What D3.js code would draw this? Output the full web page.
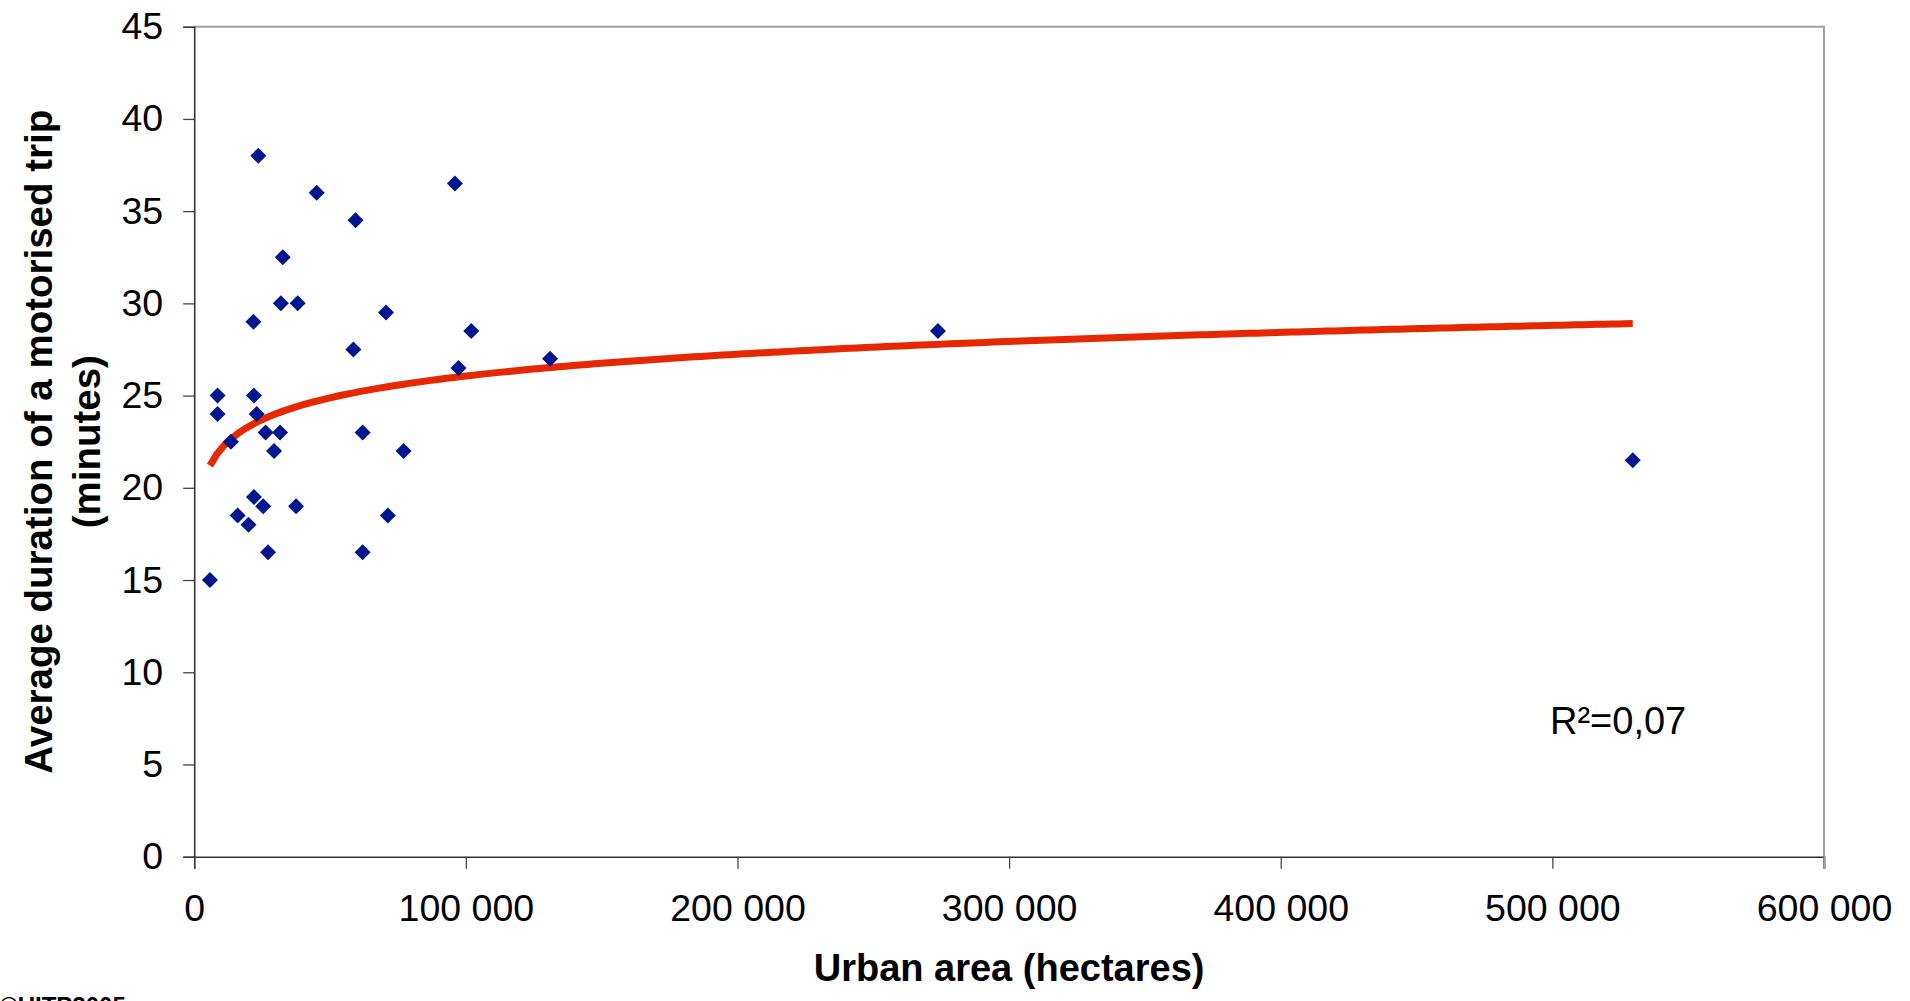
<!DOCTYPE html>
<html>
<head>
<meta charset="utf-8">
<script src="https://cdn.jsdelivr.net/npm/d3@7"></script>
<style>
  body { margin: 0; background: #fff; }
  svg { display: block; font-family: Arial, "Liberation Sans", sans-serif; }
</style>
</head>
<body>
<svg id="chart" width="1910" height="1001"></svg>
<script>
// urban area (hectares) and average trip duration (minutes)
const areas = [23600, 45100, 96000, 59400, 32600, 31900, 38100, 21800, 70600, 102000,
  58600, 97300, 131000, 8600, 8600, 22000, 23000, 13500, 26300, 31600,
  29400, 62000, 77100, 22000, 25400, 37500, 16000, 20000, 71300, 27200,
  62000, 5800, 529600, 273800];
const durations = [38, 36, 36.5, 34.5, 32.5, 30, 30, 29, 29.5, 28.5,
  27.5, 26.5, 27, 25, 24, 25, 24, 22.5, 23, 23,
  22, 23, 22, 19.5, 19, 19, 18.5, 18, 18.5, 16.5,
  16.5, 15, 21.5, 28.5];

// logarithmic trend line y = a ln(x) + b, as shown in the chart
const trendA = 1.706;
const trendB = 6.42;
const r2Label = "R²=0,07";

const xTicks = [0, 100000, 200000, 300000, 400000, 500000, 600000];
const yTicks = [0, 5, 10, 15, 20, 25, 30, 35, 40, 45];

const svg = d3.select("#chart");
const margin = { top: 26.7, right: 86, bottom: 144.3, left: 194.2 };
const width = 1910 - margin.left - margin.right;
const height = 1001 - margin.top - margin.bottom;

const g = svg.append("g").attr("transform", `translate(${margin.left},${margin.top})`);

const x = d3.scaleLinear().domain([0, 600000]).range([0, width]);
const y = d3.scaleLinear().domain([0, 45]).range([height, 0]);

const locale = d3.formatLocale({ decimal: ",", thousands: " ", grouping: [3], currency: ["", ""] });
const fmt = locale.format(",");

// plot border (top and right in grey)
g.append("path")
  .attr("d", `M0,0H${width}V${height + 12}`)
  .attr("fill", "none")
  .attr("stroke", "#a0a0a0")
  .attr("stroke-width", 2);

const xAxis = g.append("g")
  .attr("transform", `translate(0,${height})`)
  .call(d3.axisBottom(x).tickValues(xTicks).tickFormat(fmt).tickSize(12).tickPadding(26));

const yAxis = g.append("g")
  .call(d3.axisLeft(y).tickValues(yTicks).tickSize(11).tickPadding(20));

[xAxis, yAxis].forEach(a => {
  a.select(".domain").attr("stroke", "#333").attr("stroke-width", 1.6);
  a.selectAll(".tick line").attr("stroke", "#444").attr("stroke-width", 1.3);
  a.selectAll(".tick text").attr("font-size", 37.5).attr("fill", "#000")
    .attr("font-family", "Arial, 'Liberation Sans', sans-serif");
});
xAxis.select(".tick:last-of-type line").attr("stroke", "#a0a0a0").attr("stroke-width", 2);

// trend line
const xMin = d3.min(areas), xMax = d3.max(areas);
const trendXs = d3.range(0, 201).map(i => xMin + (xMax - xMin) * i / 200);
const line = d3.line()
  .x(d => x(d))
  .y(d => y(trendA * Math.log(d) + trendB));

g.append("path")
  .datum(trendXs)
  .attr("d", line)
  .attr("fill", "none")
  .attr("stroke", "#e62800")
  .attr("stroke-width", 7);

// points
const diamond = d3.symbol().type(d3.symbolSquare).size(128);
g.selectAll(".pt")
  .data(areas.map((a, i) => [a, durations[i]]))
  .join("path")
  .attr("class", "pt")
  .attr("d", diamond)
  .attr("transform", d => `translate(${x(d[0])},${y(d[1])}) rotate(45)`)
  .attr("fill", "#00168f");

// R² label
g.append("text")
  .attr("x", 1550 - margin.left)
  .attr("y", 734 - margin.top)
  .attr("font-size", 38)
  .text(r2Label);

// axis titles
svg.append("text")
  .attr("x", margin.left + width / 2)
  .attr("y", 981)
  .attr("text-anchor", "middle")
  .attr("font-size", 38)
  .attr("font-weight", "bold")
  .text("Urban area (hectares)");

const yTitle = svg.append("text")
  .attr("transform", `translate(0,${margin.top + height / 2}) rotate(-90)`)
  .attr("text-anchor", "middle")
  .attr("font-size", 38.5)
  .attr("font-weight", "bold");
yTitle.append("tspan").attr("x", 0).attr("y", 52).text("Average duration of a motorised trip");
yTitle.append("tspan").attr("x", 0).attr("y", 100).text("(minutes)");

svg.append("text")
  .attr("x", 0)
  .attr("y", 1014)
  .attr("font-size", 24)
  .attr("font-weight", "bold")
  .text("©UITP2005");
</script>
</body>
</html>
